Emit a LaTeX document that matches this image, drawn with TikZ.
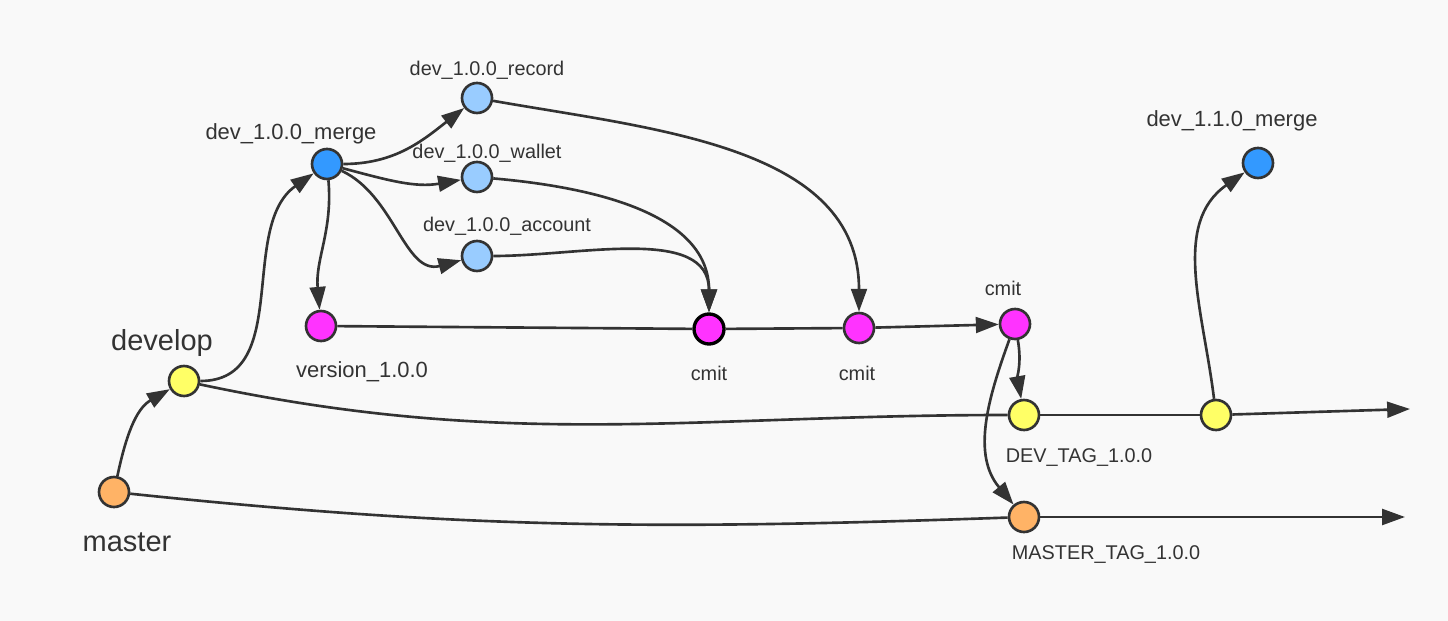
\documentclass[tikz,border=0pt]{standalone}
\usepackage{fontspec}
\setmainfont{Liberation Sans}
\usetikzlibrary{arrows.meta, positioning}
\definecolor{bgcol}{HTML}{F9F9F9}
\definecolor{inkcol}{HTML}{333333}
\definecolor{mastercol}{HTML}{FFB366}
\definecolor{developcol}{HTML}{FFFF66}
\definecolor{mergecol}{HTML}{3399FF}
\definecolor{featcol}{HTML}{99CCFF}
\definecolor{cmitcol}{HTML}{FF33FF}

\begin{document}
\begin{tikzpicture}[
    commit/.style={circle, draw=inkcol, line width=1.5pt, minimum size=0.6cm, inner sep=0pt},
    big/.style={text=inkcol, font=\fontsize{16.5}{19}\selectfont},
    mid/.style={text=inkcol, font=\fontsize{12.5}{15}\selectfont},
    small/.style={text=inkcol, font=\fontsize{11.3}{13}\selectfont},
    edge/.style={-{Triangle[length=13pt,width=9pt]}, line width=1.5pt, draw=inkcol},
    branch/.style={line width=1.5pt, draw=inkcol}
]
\fill[bgcol] (0,0) rectangle (28.96,-12.42);
\useasboundingbox (0,0) rectangle (28.96,-12.42);

% Nodes
\node[commit, fill=mastercol] (master) at (2.28,-9.84) {};
\node[commit, fill=developcol] (develop) at (3.68,-7.62) {};
\node[commit, fill=mergecol] (merge) at (6.54,-3.28) {};
\node[commit, fill=featcol] (record) at (9.54,-1.96) {};
\node[commit, fill=featcol] (wallet) at (9.54,-3.54) {};
\node[commit, fill=featcol] (account) at (9.54,-5.12) {};
\node[commit, fill=cmitcol] (version) at (6.42,-6.52) {};
\node[commit, fill=cmitcol, draw=black, line width=1.9pt] (cmitA) at (14.18,-6.58) {};
\node[commit, fill=cmitcol] (cmitB) at (17.18,-6.56) {};
\node[commit, fill=cmitcol] (cmitC) at (20.30,-6.48) {};
\node[commit, fill=developcol] (devtag) at (20.48,-8.30) {};
\node[commit, fill=mastercol] (mastertag) at (20.48,-10.34) {};
\node[commit, fill=developcol] (devnext) at (24.32,-8.30) {};
\node[commit, fill=mergecol] (mergenext) at (25.16,-3.26) {};
\coordinate (devend) at (28.20,-8.18);
\coordinate (masterend) at (28.10,-10.34);

% Labels
\node[big] (masterlbl) at (2.54,-10.84) {master};
\node[big] (developlbl) at (3.24,-6.86) {develop};
\node[mid] (mergelbl) at (5.82,-2.68) {dev\_1.0.0\_merge};
\node[small] (recordlbl) at (9.74,-1.40) {dev\_1.0.0\_record};
\node[small] (walletlbl) at (9.74,-3.06) {dev\_1.0.0\_wallet};
\node[small] (accountlbl) at (10.14,-4.52) {dev\_1.0.0\_account};
\node[mid] (versionlbl) at (7.24,-7.44) {version\_1.0.0};
\node[small] (cmitAlbl) at (14.18,-7.46) {cmit};
\node[small] (cmitBlbl) at (17.14,-7.46) {cmit};
\node[small] (cmitClbl) at (20.06,-5.76) {cmit};
\node[small] (devtaglbl) at (21.58,-9.16) {DEV\_TAG\_1.0.0};
\node[small] (mastertaglbl) at (22.12,-11.10) {MASTER\_TAG\_1.0.0};
\node[mid] (mergenextlbl) at (24.64,-2.42) {dev\_1.1.0\_merge};

% Edges
\draw[edge] (master) to[out=78,in=210] (develop);
\draw[edge] (develop) to[out=0,in=215] (merge);
\draw[edge] (merge) to[out=0,in=218] (record);
\draw[edge] (merge) to[out=-15,in=190] (wallet);
\draw[edge] (merge) to[out=-25,in=195] (account);
\draw[edge] (merge) to[out=-85,in=95] (version);
\draw[branch] (version) -- (cmitA);
\draw[branch] (cmitA) -- (cmitB);
\draw[edge] (cmitB) -- (cmitC);
\draw[edge] (wallet) to[out=-5,in=90] (cmitA);
\draw[edge] (account) to[out=0,in=90] (cmitA);
\draw[edge] (record) to[out=-10,in=90] (cmitB);
\draw[edge] (cmitC) to[out=-80,in=100] (devtag);
\draw[edge] (cmitC) to[out=-110,in=130] (mastertag);
\draw[branch] (develop) to[out=-12,in=180] (devtag);
\draw[branch] (devtag) -- (devnext);
\draw[edge] (devnext) -- (devend);
\draw[branch] (master) to[out=-6,in=182] (mastertag);
\draw[edge] (mastertag) -- (masterend);
\draw[edge] (devnext) to[out=97,in=215] (mergenext);

\end{tikzpicture}
\end{document}
